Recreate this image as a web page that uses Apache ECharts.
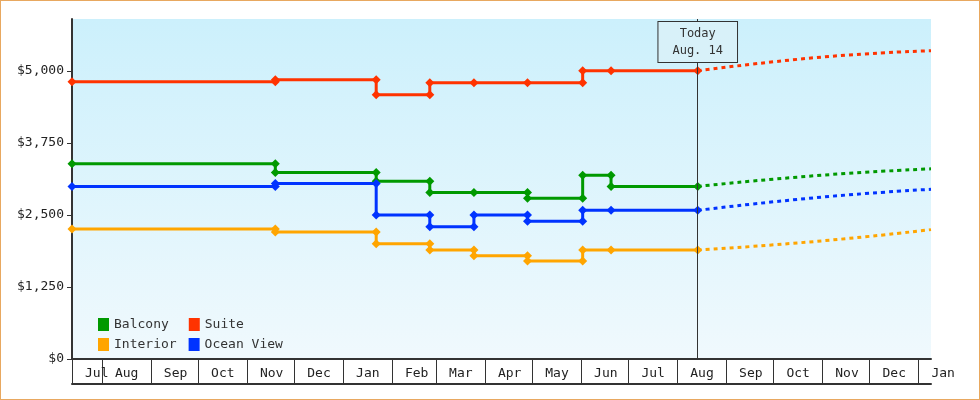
<!DOCTYPE html><html><head><meta charset="utf-8">
<script src="https://cdn.jsdelivr.net/npm/echarts@6/dist/echarts.min.js"></script>
<style>html,body{margin:0;padding:0;background:#fff}#c{width:980px;height:400px;box-sizing:border-box;border:1px solid #e8a860}</style>
</head><body><div id="c"></div><script>
const monthNames=['Jan','Feb','Mar','Apr','May','Jun','Jul','Aug','Sep','Oct','Nov','Dec'];
const yTicks=[0,1250,2500,3750,5000];
const today='2023-08-14';
// step change dates
const dates=['2022-07-13','2022-11-19','2023-01-22','2023-02-25','2023-03-25','2023-04-28','2023-06-02','2023-06-20','2023-08-14'];
const balcony=[3390,3235,3085,2890,2890,2790,3190,2995,2995];
const suite=[4810,4845,4585,4795,4795,4795,5000,5000,5000];
const interior=[2255,2205,2000,1890,1790,1700,1890,1890,1890];
const oceanView=[2995,3045,2500,2295,2500,2390,2580,2580,2580];
const projDates=['2023-08-14','2023-11-01','2024-01-09'];
const balconyProj=[2995,3190,3300];
const suiteProj=[5000,5240,5350];
const interiorProj=[1890,2050,2245];
const oceanProj=[2580,2810,2945];
const colors={Balcony:'#009900',Suite:'#ff3300',Interior:'#ffa500','Ocean View':'#0033ff'};
const font='DejaVu Sans Mono';
function stepData(vals){const d=[[dates[0],vals[0]]];for(let i=1;i<dates.length;i++){if(vals[i]!==vals[i-1])d.push([dates[i],vals[i-1]]);d.push([dates[i],vals[i]]);}return d;}
function mk(name,vals){return {name,type:'line',data:stepData(vals),color:colors[name],symbol:'diamond',symbolSize:9,lineStyle:{width:3},z:3};}
function pj(name,vals){return {name:name+' proj',type:'line',data:projDates.map((d,i)=>[d,vals[i]]),smooth:true,color:colors[name],symbol:'none',lineStyle:{width:3,type:[4,4]}};}
const chart=echarts.init(document.getElementById('c'));
const series=[mk('Balcony',balcony),mk('Suite',suite),mk('Interior',interior),mk('Ocean View',oceanView),
 pj('Balcony',balconyProj),pj('Suite',suiteProj),pj('Interior',interiorProj),pj('Ocean View',oceanProj)];
series[1].markLine={silent:true,symbol:'none',label:{show:false},lineStyle:{color:'#333',width:1,type:'solid'},data:[{xAxis:today}]};
series[1].markPoint={symbol:'rect',symbolSize:1,itemStyle:{color:'transparent'},data:[{coord:[today,5500]}],
 label:{show:true,position:'inside',formatter:'Today\nAug. 14',fontFamily:font,fontSize:12,color:'#333',lineHeight:17,backgroundColor:'#d8f1f9',borderColor:'#333',borderWidth:1,padding:[3,14]}};
chart.setOption({
 animation:false,
 textStyle:{fontFamily:font},
 grid:{left:71,right:48,top:18,bottom:40,show:true,borderWidth:0,
  backgroundColor:{type:'linear',x:0,y:0,x2:0,y2:1,colorStops:[{offset:0,color:'#ccf0fc'},{offset:1,color:'#f0f9fd'}]}},
 legend:[{data:['Balcony','Suite'],left:92,top:312,icon:'rect',itemWidth:11,itemHeight:13,itemGap:20,textStyle:{fontFamily:font,fontSize:13,color:'#333'}},
  {data:['Interior','Ocean View'],left:92,top:332,icon:'rect',itemWidth:11,itemHeight:13,itemGap:12,textStyle:{fontFamily:font,fontSize:13,color:'#333'}}],
 xAxis:[{type:'time',min:'2022-07-13',max:'2024-01-09',minInterval:27*864e5,maxInterval:32*864e5,
  axisLine:{lineStyle:{color:'#333',width:2}},axisTick:{show:true,length:25,lineStyle:{color:'#333'}},splitLine:{show:false},
  axisLabel:{showMinLabel:true,showMaxLabel:false,align:'left',padding:[0,0,0,13],margin:8,color:'#222',fontSize:13,fontFamily:font,
   formatter:v=>monthNames[new Date(v).getMonth()]}},
  {type:'time',min:'2022-07-13',max:'2024-01-09',position:'bottom',offset:25,axisLine:{show:true,lineStyle:{color:'#333',width:2}},axisTick:{show:false},axisLabel:{show:false},splitLine:{show:false}}],
 yAxis:{type:'value',min:0,max:5900,interval:1250,axisLine:{show:true,lineStyle:{color:'#333',width:2}},axisTick:{show:true,length:5,lineStyle:{color:'#333'}},splitLine:{show:false},
  axisLabel:{showMaxLabel:false,color:'#222',fontSize:13,fontFamily:font,formatter:v=>yTicks.includes(v)?'$'+v.toLocaleString('en-US'):''}},
 series
});
</script></body></html>
